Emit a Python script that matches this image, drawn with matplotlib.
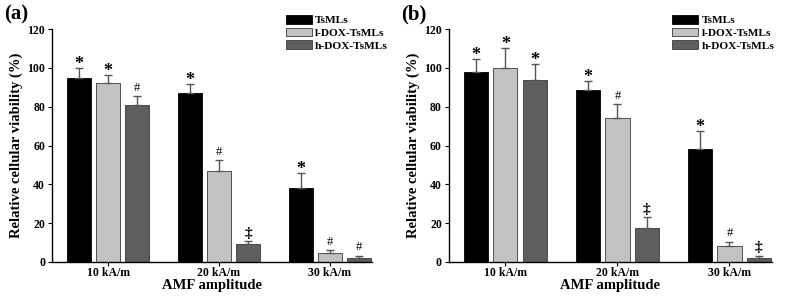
import matplotlib
matplotlib.use("Agg")
import matplotlib.pyplot as plt
import numpy as np

plt.rcParams['font.family'] = ['Liberation Serif', 'DejaVu Serif']
plt.rcParams['font.weight'] = 'bold'

groups = ["10 kA/m", "20 kA/m", "30 kA/m"]
series = ["TsMLs", "l-DOX-TsMLs", "h-DOX-TsMLs"]
colors = ["#000000", "#c2c2c2", "#5e5e5e"]

a_vals = [[95, 87, 38], [92, 47, 4.5], [81, 9.5, 2]]
a_err = [[5, 4.5, 8], [4.5, 5.5, 1.5], [4.5, 1.2, 1.3]]
a_marks = [["*", "*", "*"], ["*", "#", "#"], ["#", "‡", "#"]]

b_vals = [[98, 88.5, 58], [100, 74, 8], [94, 17.5, 2]]
b_err = [[6.5, 4.5, 9.5], [10, 7.5, 2.5], [8, 5.5, 1.2]]
b_marks = [["*", "*", "*"], ["*", "#", "#"], ["*", "‡", "‡"]]

yticks = [0, 20, 40, 60, 80, 100, 120]

fig = plt.figure(figsize=(7.93, 3.06), dpi=100)

def panel(rect, vals, errs, marks, label, legx):
    ax = fig.add_axes(rect)
    x = np.arange(len(groups))
    step = 0.262
    width = 0.216
    for i, (v, e, m) in enumerate(zip(vals, errs, marks)):
        xs = x + (i - 1) * step
        ax.bar(xs, v, width, color=colors[i], edgecolor="#3a3a3a" if i else "#000000",
               linewidth=0.6, label=series[i], zorder=2)
        ax.errorbar(xs, v, yerr=[np.zeros(len(v)), e], fmt="none", ecolor="#555555",
                    elinewidth=1.0, capsize=3, capthick=1.0, zorder=3)
        for xi, vi, ei, mi in zip(xs, v, e, m):
            if mi == "#":
                ax.annotate(mi, (xi, vi + ei), xytext=(0, 1.5), textcoords="offset points",
                            ha="center", va="bottom", fontsize=9, fontweight="normal")
            elif mi == "*":
                ax.annotate(mi, (xi, vi + ei), xytext=(0, -3.5), textcoords="offset points",
                            ha="center", va="bottom", fontsize=13, fontweight="bold")
            else:
                ax.annotate(mi, (xi, vi + ei), xytext=(0, 1), textcoords="offset points",
                            ha="center", va="bottom", fontsize=11, fontweight="bold")
    ax.set_xlim(-0.505, 2.38)
    ax.set_ylim(0, 120)
    ax.set_yticks(yticks)
    ax.set_xticks(x)
    ax.set_xticklabels(groups)
    for s in ("top", "right"):
        ax.spines[s].set_visible(False)
    for s in ("left", "bottom"):
        ax.spines[s].set_linewidth(1.0)
    ax.tick_params(axis="both", direction="out", length=3, width=0.8, labelsize=8.5, pad=2)
    ax.tick_params(axis="x", pad=1)
    for t in ax.get_xticklabels() + ax.get_yticklabels():
        t.set_fontweight("bold")
    ax.set_ylabel("Relative cellular viability (%)", fontsize=10.5, fontweight="bold", labelpad=3)
    ax.set_xlabel("AMF amplitude", fontsize=10.5, fontweight="bold", labelpad=0)
    ax.legend(loc="upper left", bbox_to_anchor=(legx, 1.06), frameon=False, fontsize=8.2,
              handlelength=2.3, handleheight=0.8, handletextpad=0.3, labelspacing=0.2,
              borderaxespad=0, borderpad=0)
    fig.text(rect[0] - 0.06, 0.985, label, fontsize=15, fontweight="bold", va="top", ha="left")
    return ax

panel([0.0656, 0.144, 0.4034, 0.761], a_vals, a_err, a_marks, "(a)", 0.73)
panel([0.566, 0.144, 0.4075, 0.761], b_vals, b_err, b_marks, "(b)", 0.69)

fig.savefig("out.png", dpi=100)
